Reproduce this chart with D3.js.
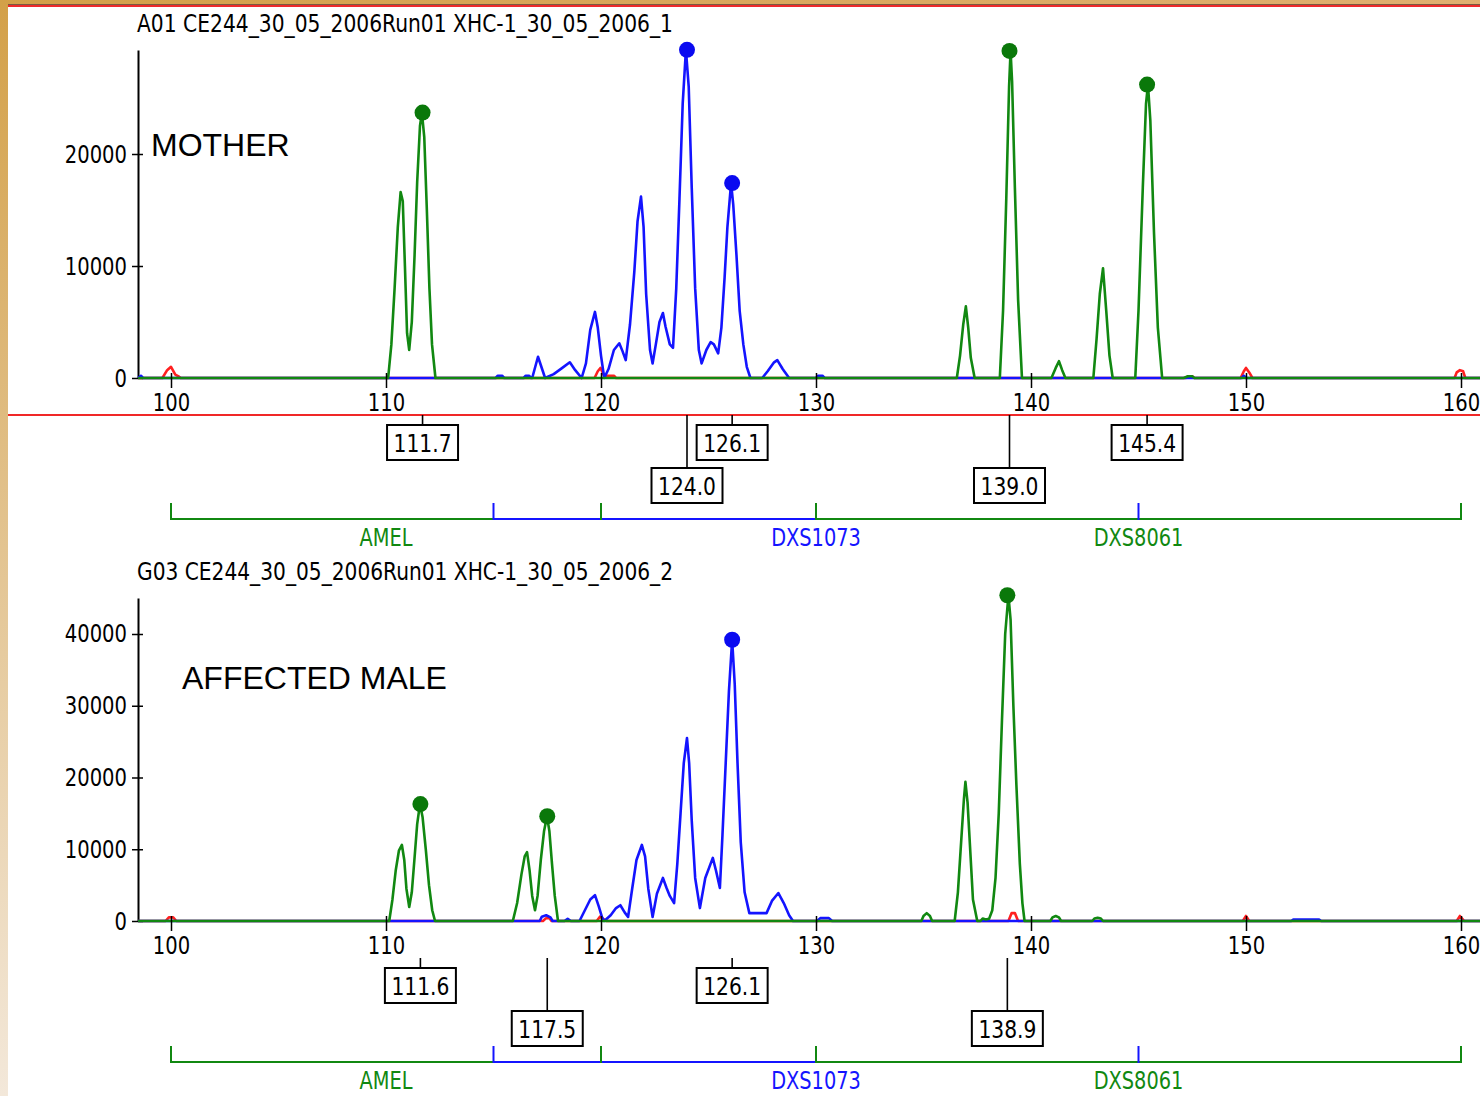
<!DOCTYPE html>
<html>
<head>
<meta charset="utf-8">
<script src="https://cdn.jsdelivr.net/npm/d3@7"></script>
<style>
  body { margin: 0; background: #fff; }
  text { font-family: "Liberation Sans Narrow", "DejaVu Sans Condensed", sans-serif; }
  .big { font-family: "Liberation Sans", Arial, sans-serif; }
</style>
</head>
<body>
<script>
var W = 1480, H = 1096;

// size axis (bp) and tick labels
var bpTicks = [100, 110, 120, 130, 140, 150, 160];
var motherRfuTicks = [0, 10000, 20000];
var maleRfuTicks = [0, 10000, 20000, 30000, 40000];

// marker bins
var markerNames = ["AMEL", "DXS1073", "DXS8061"];
var markerStart = [100, 115, 130];
var markerEnd = [120, 145, 160];
var markerDye = ["green", "blue", "green"];

// mother traces [bp, rfu]
var motherGreen = [[98.47,0],[110.1,0],[110.25,3000],[110.4,8000],[110.55,13500],[110.68,16600],[110.78,15800],[110.88,10000],[110.98,4000],[111.08,2500],[111.2,5000],[111.33,11000],[111.45,17500],[111.58,22500],[111.67,23700],[111.78,21500],[111.9,15000],[112.02,8000],[112.14,3000],[112.3,0],
  [136.55,0],[136.7,2000],[136.85,4800],[136.97,6400],[137.08,4500],[137.2,1800],[137.38,0],
  [138.55,0],[138.7,6000],[138.85,16000],[138.98,26000],[139.05,29200],[139.12,26500],[139.25,17000],[139.4,7000],[139.58,0],
  [140.95,0],[141.15,900],[141.3,1500],[141.45,700],[141.6,0],
  [142.9,0],[143.05,3500],[143.2,7500],[143.35,9800],[143.5,6000],[143.65,2000],[143.8,0],
  [144.85,0],[145.0,6000],[145.2,17000],[145.35,24500],[145.44,26200],[145.55,23000],[145.72,13000],[145.9,4500],[146.1,0],
  [147.1,0],[147.3,150],[147.5,150],[147.6,0],[160.9,0]];
var motherBlue = [[98.47,0],[98.6,200],[98.7,0],[115.1,0],[115.2,200],[115.4,200],[115.5,0],[116.4,0],[116.5,200],[116.65,200],[116.75,0],
  [116.8,0],[117.07,1900],[117.4,0],[117.8,350],[118.2,900],[118.55,1400],[118.8,700],[119.1,0],[119.3,1300],[119.5,4300],[119.72,5900],[119.85,4500],[120.0,2000],[120.15,0],
  [120.35,800],[120.6,2500],[120.85,3100],[121.0,2400],[121.15,1600],[121.35,4800],[121.55,9500],[121.7,14000],[121.86,16200],[121.98,13500],[122.1,7500],[122.28,2500],[122.4,1300],
  [122.55,3000],[122.72,5000],[122.88,5800],[123.0,4600],[123.2,3000],[123.35,2700],[123.5,8000],[123.65,16000],[123.8,24500],[123.95,29300],[124.08,26000],[124.22,17000],[124.38,8000],[124.55,2500],[124.68,1300],
  [124.9,2500],[125.1,3200],[125.25,3000],[125.45,2200],[125.6,4500],[125.75,9000],[125.88,13500],[126.05,17400],[126.15,15500],[126.3,11000],[126.45,6000],[126.62,3000],[126.78,1000],[126.95,0],
  [127.5,0],[127.75,600],[128.05,1400],[128.2,1600],[128.45,800],[128.75,0],
  [130.0,0],[130.1,200],[130.3,200],[130.4,0],[149.8,0],[149.9,200],[150.0,0],[160.9,0]];
var motherRed = [[98.47,0],[99.6,0],[99.82,700],[100.0,1000],[100.2,300],[100.35,150],[100.45,0],
  [119.7,0],[119.85,600],[119.98,900],[120.12,300],[120.25,200],[120.6,200],[120.7,0],
  [147.2,0],[147.3,150],[147.5,150],[147.6,0],
  [149.75,0],[149.9,600],[150.0,900],[150.15,500],[150.3,0],
  [159.7,0],[159.8,500],[159.95,700],[160.1,600],[160.2,0],[160.9,0]];

// affected male traces [bp, rfu]
var maleGreen = [[98.47,0],[110.15,0],[110.3,3000],[110.45,7000],[110.6,9800],[110.74,10600],[110.85,8500],[110.95,4500],[111.08,1950],[111.2,4000],[111.32,8500],[111.45,13500],[111.58,16300],[111.7,14500],[111.85,10000],[112.0,5000],[112.15,1500],[112.28,0],
  [115.9,0],[116.1,2500],[116.3,6500],[116.45,9000],[116.56,9600],[116.68,7000],[116.8,3500],[116.93,1500],[117.05,3500],[117.2,8500],[117.35,12500],[117.49,14600],[117.6,12500],[117.72,8000],[117.85,3500],[118.0,0],
  [134.9,0],[135.0,700],[135.15,1100],[135.3,700],[135.4,0],
  [136.45,0],[136.6,4000],[136.75,11000],[136.88,17000],[136.95,19400],[137.05,16500],[137.18,9500],[137.3,3000],[137.5,0],
  [137.65,0],[137.75,350],[137.9,200],[138.05,300],[138.2,1500],[138.35,6000],[138.5,15000],[138.65,28000],[138.8,40000],[138.95,45400],[139.05,42000],[139.18,30000],[139.32,19000],[139.48,8000],[139.6,2500],[139.7,0],
  [140.9,0],[141.0,500],[141.15,700],[141.3,500],[141.4,0],
  [142.85,0],[142.95,350],[143.1,450],[143.25,350],[143.35,0],[160.9,0]];
var maleBlue = [[98.47,0],[117.15,0],[117.25,600],[117.45,800],[117.65,500],[117.75,0],[118.3,0],[118.45,300],[118.6,0],
  [119.0,0],[119.25,1500],[119.5,3000],[119.72,3600],[119.9,2000],[120.05,500],[120.15,0],
  [120.45,800],[120.7,1800],[120.9,2200],[121.1,1200],[121.26,560],[121.45,4500],[121.65,8500],[121.9,10600],[122.05,9000],[122.2,4500],[122.4,560],
  [122.6,3800],[122.88,6000],[123.05,4600],[123.2,3500],[123.4,2500],[123.55,8000],[123.7,15000],[123.85,22000],[124.0,25500],[124.1,22000],[124.22,14000],[124.38,6000],[124.6,1800],
  [124.85,6000],[125.2,8800],[125.35,7000],[125.53,4600],[125.65,12000],[125.8,22000],[125.95,32000],[126.1,39200],[126.22,33000],[126.35,22000],[126.5,11000],[126.68,4000],[126.9,1100],
  [127.7,1100],[127.95,2800],[128.25,3900],[128.5,2500],[128.75,800],[128.93,0],
  [130.05,0],[130.2,400],[130.6,400],[130.75,0],[152.1,0],[152.2,200],[153.4,200],[153.5,0],[160.9,0]];
var maleRed = [[98.47,0],[99.75,0],[99.9,500],[100.1,500],[100.25,0],
  [117.3,0],[117.45,400],[117.6,400],[117.7,0],
  [119.8,0],[119.95,600],[120.15,200],[120.25,0],
  [138.95,0],[139.1,1100],[139.25,1100],[139.4,0],
  [149.85,0],[150.0,700],[150.15,0],
  [159.8,0],[159.95,700],[160.15,0],[160.9,0]];

// allele calls
var motherCallBp = [111.7, 124.0, 126.1, 139.0, 145.4];
var motherCallRfu = [23700, 29300, 17400, 29200, 26200];
var motherCallDye = ["green", "blue", "blue", "green", "green"];
var maleCallBp = [111.6, 117.5, 126.1, 138.9];
var maleCallRfu = [16300, 14600, 39200, 45400];
var maleCallDye = ["green", "green", "blue", "green"];

var dyeColor = { green: "#118811", blue: "#1414ff", red: "#ff2020" };
var dotColor = { green: "#0a780a", blue: "#0a0af0" };
var narrowFont = '"Liberation Sans Narrow", "DejaVu Sans Condensed", sans-serif';

var svg = d3.select("body").append("svg")
  .attr("width", W).attr("height", H);

// squeeze text sideways, the source font is tall and narrow
function squeeze(sel, k) {
  sel.each(function() {
    var len = this.getComputedTextLength();
    d3.select(this).attr("textLength", len * k).attr("lengthAdjust", "spacingAndGlyphs");
  });
}

var defs = svg.append("defs");
var lg = defs.append("linearGradient").attr("id", "edge")
  .attr("x1", 0).attr("y1", 0).attr("x2", 0).attr("y2", 1);
lg.append("stop").attr("offset", "0%").attr("stop-color", "#d3a048");
lg.append("stop").attr("offset", "100%").attr("stop-color", "#f3e8da");
var tg = defs.append("linearGradient").attr("id", "topedge");
tg.append("stop").attr("offset", "0%").attr("stop-color", "#d3a048");
tg.append("stop").attr("offset", "100%").attr("stop-color", "#e0b070");

svg.append("rect").attr("width", W).attr("height", H).attr("fill", "#fff");
svg.append("rect").attr("x", 0).attr("y", 0).attr("width", W).attr("height", 4).attr("fill", "url(#topedge)");
svg.append("rect").attr("x", 0).attr("y", 4).attr("width", W).attr("height", 1).attr("fill", "#7a5a40");
svg.append("rect").attr("x", 8).attr("y", 5).attr("width", W - 8).attr("height", 2).attr("fill", "#ee2a2a");
svg.append("rect").attr("x", 0).attr("y", 0).attr("width", 8).attr("height", H).attr("fill", "url(#edge)");

var x = d3.scaleLinear().domain([100, 160]).range([171, 1461]);
var xLeft = 138;

function drawPanel(p) {
  var g = svg.append("g");
  var y = d3.scaleLinear().domain([0, p.yMax]).range([p.base, p.top]);
  var line = d3.line().x(function(d) { return x(d[0]); }).y(function(d) { return y(d[1]); });

  g.append("text").attr("x", 137).attr("y", p.titleY)
    .attr("font-size", 25).attr("fill", "#000")
    .attr("textLength", 536).attr("lengthAdjust", "spacingAndGlyphs")
    .text(p.title);

  g.append("text").attr("class", "big").attr("x", p.labelX).attr("y", p.labelY)
    .attr("font-size", 32).attr("fill", "#000").text(p.label);

  // y axis
  var yAxis = d3.axisLeft(y).tickValues(p.rfuTicks).tickFormat(d3.format("d"))
    .tickSizeInner(6).tickSizeOuter(0).tickPadding(5);
  var ya = g.append("g").attr("transform", "translate(" + xLeft + ",0)").call(yAxis);
  ya.select(".domain").attr("stroke", "#000").attr("stroke-width", 2);
  ya.selectAll(".tick line").attr("x1", 5).attr("stroke-width", 1.5);
  ya.selectAll(".tick text").attr("font-size", 25).attr("fill", "#000").style("font-family", narrowFont)
    .call(squeeze, 0.87);

  // traces
  [["red", p.red], ["blue", p.blue], ["green", p.green]].forEach(function(s) {
    g.append("path").datum(s[1]).attr("d", line)
      .attr("fill", "none").attr("stroke", dyeColor[s[0]])
      .attr("stroke-width", 2.6).attr("stroke-linejoin", "round");
  });

  // x axis
  var xAxis = d3.axisBottom(x).tickValues(bpTicks).tickSizeOuter(0).tickSizeInner(10).tickPadding(5);
  var xa = g.append("g").attr("transform", "translate(0," + p.base + ")").call(xAxis);
  xa.select(".domain").remove();
  xa.selectAll(".tick line").attr("y1", -5).attr("stroke-width", 1.5);
  xa.selectAll(".tick text").attr("font-size", 25).attr("fill", "#000").style("font-family", narrowFont)
    .call(squeeze, 0.87);

  // call dots
  g.selectAll(".dot").data(p.callBp).enter().append("circle")
    .attr("cx", function(d) { return x(d); })
    .attr("cy", function(d, i) { return y(p.callRfu[i]); })
    .attr("r", 8)
    .attr("fill", function(d, i) { return dotColor[p.callDye[i]]; });

  // red separator
  if (p.redLine) {
    g.append("line").attr("x1", 8).attr("x2", W).attr("y1", p.base + 37).attr("y2", p.base + 37)
      .attr("stroke", "#f02828").attr("stroke-width", 2);
  }

  // call labels, alternating rows
  var bw = 71, bh = 35;
  p.callBp.forEach(function(d, i) {
    var bx = x(d);
    var by = p.base + (i % 2 === 0 ? 47 : 90);
    g.append("line").attr("x1", bx).attr("x2", bx).attr("y1", p.base + 37).attr("y2", by)
      .attr("stroke", "#000").attr("stroke-width", 1.6);
    g.append("rect").attr("x", bx - bw / 2).attr("y", by).attr("width", bw).attr("height", bh)
      .attr("fill", "#fff").attr("stroke", "#000").attr("stroke-width", 2);
    g.append("text").attr("x", bx).attr("y", by + bh / 2 + 9)
      .attr("text-anchor", "middle").attr("font-size", 25).attr("fill", "#000")
      .text(d.toFixed(1)).call(squeeze, 0.9);
  });

  // marker bins
  var binY = p.base + 141;
  markerNames.forEach(function(m, i) {
    var c = dyeColor[markerDye[i]];
    g.append("line").attr("x1", x(markerStart[i])).attr("x2", x(markerEnd[i]))
      .attr("y1", binY).attr("y2", binY).attr("stroke", c).attr("stroke-width", 2);
  });
  markerNames.forEach(function(m, i) {
    var c = dyeColor[markerDye[i]];
    [markerStart[i], markerEnd[i]].forEach(function(v) {
      g.append("line").attr("x1", x(v)).attr("x2", x(v))
        .attr("y1", binY - 16).attr("y2", binY + 1).attr("stroke", c).attr("stroke-width", 2);
    });
    g.append("text").attr("x", x((markerStart[i] + markerEnd[i]) / 2)).attr("y", binY + 27)
      .attr("text-anchor", "middle").attr("font-size", 25).attr("fill", c).text(m)
      .call(squeeze, 0.86);
  });
}

drawPanel({
  title: "A01 CE244_30_05_2006Run01 XHC-1_30_05_2006_1", titleY: 32,
  label: "MOTHER", labelX: 151, labelY: 156,
  base: 378, top: 50, yMax: 29286, rfuTicks: motherRfuTicks,
  green: motherGreen, blue: motherBlue, red: motherRed,
  callBp: motherCallBp, callRfu: motherCallRfu, callDye: motherCallDye,
  redLine: true
});

drawPanel({
  title: "G03 CE244_30_05_2006Run01 XHC-1_30_05_2006_2", titleY: 580,
  label: "AFFECTED MALE", labelX: 182, labelY: 689,
  base: 921, top: 598, yMax: 45017, rfuTicks: maleRfuTicks,
  green: maleGreen, blue: maleBlue, red: maleRed,
  callBp: maleCallBp, callRfu: maleCallRfu, callDye: maleCallDye,
  redLine: false
});
</script>
</body>
</html>
